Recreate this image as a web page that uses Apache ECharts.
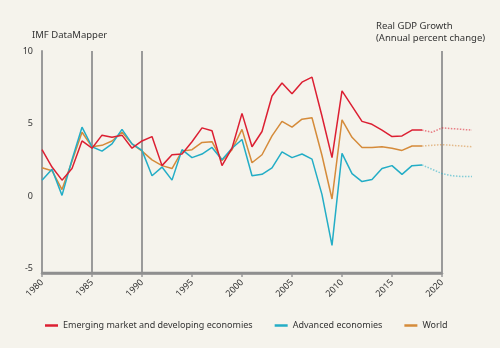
<!DOCTYPE html>
<html>
<head>
<meta charset="utf-8">
<script src="https://cdn.jsdelivr.net/npm/echarts@6/dist/echarts.min.js"></script>
<style>
html,body{margin:0;padding:0;background:#f5f3ec;}
#c{width:500px;height:348px;}
</style>
</head>
<body>
<div id="c"></div>
<script>
var years = [1980,1981,1982,1983,1984,1985,1986,1987,1988,1989,1990,1991,1992,1993,1994,1995,1996,1997,1998,1999,2000,2001,2002,2003,2004,2005,2006,2007,2008,2009,2010,2011,2012,2013,2014,2015,2016,2017,2018];
var projYears = [2018,2019,2020,2021,2022,2023];

var emerging = [3.2,2.0,1.1,1.9,3.8,3.3,4.2,4.05,4.2,3.3,3.8,4.1,2.1,2.85,2.9,3.75,4.7,4.5,2.1,3.3,5.7,3.4,4.45,6.9,7.8,7.05,7.85,8.2,5.5,2.65,7.25,6.2,5.15,4.95,4.55,4.1,4.15,4.55,4.55];
var emergingProj = [4.55,4.4,4.7,4.65,4.6,4.55];

var advanced = [1.1,1.85,0.05,2.5,4.75,3.4,3.1,3.6,4.6,3.6,3.15,1.4,2.0,1.1,3.2,2.65,2.9,3.35,2.5,3.3,3.9,1.4,1.5,1.95,3.05,2.65,2.9,2.55,0.1,-3.4,2.95,1.55,1.0,1.15,1.9,2.1,1.5,2.1,2.15];
var advancedProj = [2.15,1.85,1.55,1.4,1.35,1.35];

var world = [1.95,1.75,0.45,2.4,4.4,3.4,3.5,3.8,4.4,3.6,3.1,2.5,2.1,1.9,3.1,3.2,3.7,3.75,2.45,3.2,4.6,2.3,2.85,4.15,5.15,4.75,5.3,5.4,2.8,-0.2,5.25,4.05,3.35,3.35,3.4,3.3,3.15,3.45,3.45];
var worldProj = [3.45,3.5,3.55,3.5,3.45,3.4];

var yTickLabels = [-5,0,5,10];
var refLines = [1985,1990,2020];

var names = ['Emerging market and developing economies','Advanced economies','World'];
var colors = ['#dc1f32','#23adc6','#d58b3a'];

var X_MIN = 1980, X_AXIS_END = 2020, X_MAX = 2023, X_STEP = 5, Y_MIN = -5.3, Y_MAX = 10;

function pairs(xs, ys){ return xs.map(function(x,i){ return [x, ys[i]]; }); }

var chart = echarts.init(document.getElementById('c'), null, {renderer:'canvas'});
var font = '"Noto Sans", sans-serif';
var solidSets = [emerging, advanced, world];
var projSets = [emergingProj, advancedProj, worldProj];
var series = [];
// baseline (x axis line from 1980 to 2020)
series.push({
  name:'axis', type:'line', data:[[X_MIN, Y_MIN],[X_AXIS_END, Y_MIN]], showSymbol:false, symbol:'none',
  lineStyle:{color:'#8f8f8f', width:2.5}, clip:false, z:10, silent:true, animation:false, legendHoverLink:false
});
solidSets.forEach(function(s, i){
  series.push({
    name: names[i], type:'line', data: pairs(years, s), showSymbol:false, symbol:'none',
    lineStyle:{color:colors[i], width:1.5}, itemStyle:{color:colors[i]}, z:5-i, clip:false,
    animation:false
  });
});
projSets.forEach(function(s, i){
  series.push({
    name: names[i], type:'line', data: pairs(projYears, s), showSymbol:false, symbol:'none',
    lineStyle:{color:colors[i], width:1.5, type:'dotted', opacity:0.55}, itemStyle:{color:colors[i]}, clip:false,
    animation:false
  });
});
series[1].markLine = {
  silent:true, symbol:'none', label:{show:false}, animation:false, z:1,
  lineStyle:{color:'#9a9a9a', width:2, type:'solid'},
  data: refLines.map(function(v){ return [{coord:[v, Y_MIN]},{coord:[v, Y_MAX]}]; })
};

chart.setOption({
  backgroundColor:'#f5f3ec',
  textStyle:{fontFamily:font},
  animation:false,
  tooltip:{show:false},
  graphic:[
    {type:'text', left:32, top:30, style:{text:'IMF DataMapper', font:'9.5px '+font, fill:'#333'}},
    {type:'text', left:376, top:20, style:{text:'Real GDP Growth\n(Annual percent change)', font:'9.5px '+font, fill:'#333', lineHeight:12}}
  ],
  grid:[
    {left:42, right:28, top:51, bottom:75, containLabel:false},
    {left:42, right:58, top:51, bottom:75, containLabel:false}
  ],
  legend:{
    left:40, top:316, icon:'rect', itemWidth:13, itemHeight:2.5, itemGap:22,
    data:names, textStyle:{fontSize:9, color:'#333', fontFamily:font}
  },
  xAxis:[
    {
      gridIndex:0, type:'value', min:X_MIN, max:X_MAX, show:false
    },
    {
      gridIndex:1, type:'value', min:X_MIN, max:X_AXIS_END, interval:X_STEP,
      axisLine:{show:true, onZero:false, lineStyle:{color:'#8f8f8f', width:2.5}},
      axisTick:{show:true, length:4, lineStyle:{color:'#9a9a9a', width:1.5}},
      splitLine:{show:false},
      axisLabel:{rotate:45, fontSize:9, color:'#333', margin:8, formatter:function(v){return String(v);}}
    }
  ],
  yAxis:[
    {
      gridIndex:0, type:'value', min:Y_MIN, max:Y_MAX,
      axisLine:{show:true, lineStyle:{color:'#9a9a9a', width:2}},
      axisTick:{show:false},
      splitLine:{show:false},
      axisLabel:{fontSize:9, color:'#333', margin:9, customValues:yTickLabels}
    },
    {
      gridIndex:1, type:'value', min:Y_MIN, max:Y_MAX, show:false
    }
  ],
  series: series
});
</script>
</body>
</html>
